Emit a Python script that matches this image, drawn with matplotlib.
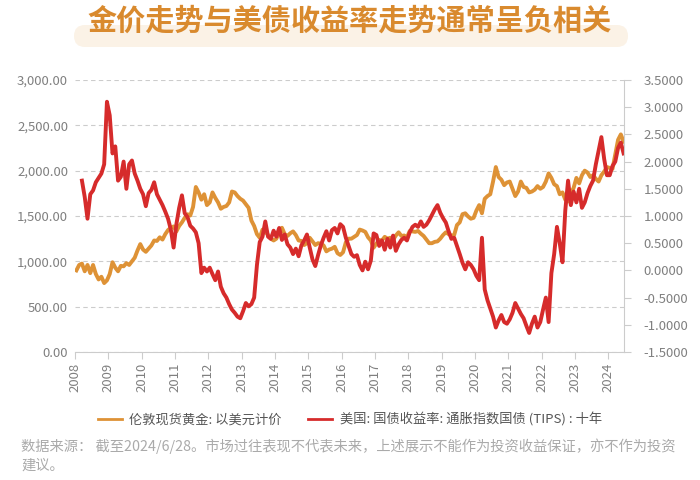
import numpy as np
import matplotlib
matplotlib.use("Agg")
import matplotlib.pyplot as plt
from matplotlib.lines import Line2D
from matplotlib.patches import FancyBboxPatch

plt.rcParams['font.family'] = ['Noto Sans CJK SC', 'DejaVu Sans']

# monthly values, Jan 2008 - Jun 2024
gold = [
    900, 960, 975, 890, 960, 870, 960, 860, 800, 830, 760, 790,        # 2008
    860, 990, 930, 890, 950, 945, 980, 960, 1000, 1040, 1120, 1190,    # 2009
    1130, 1105, 1140, 1175, 1230, 1225, 1265, 1240, 1300, 1345, 1370, 1385,  # 2010
    1330, 1390, 1430, 1480, 1520, 1505, 1600, 1820, 1760, 1680, 1740, 1620,  # 2011
    1650, 1760, 1700, 1650, 1580, 1600, 1610, 1650, 1770, 1760, 1720, 1690,  # 2012
    1670, 1630, 1590, 1450, 1390, 1300, 1260, 1350, 1330, 1290, 1250, 1230,  # 2013
    1250, 1320, 1370, 1300, 1280, 1310, 1330, 1290, 1230, 1225, 1180, 1200,  # 2014
    1260, 1220, 1180, 1200, 1195, 1175, 1110, 1130, 1140, 1160, 1090, 1070,  # 2015
    1100, 1210, 1250, 1250, 1270, 1290, 1350, 1340, 1325, 1265, 1230, 1150,  # 2016
    1195, 1235, 1230, 1270, 1250, 1260, 1235, 1285, 1320, 1280, 1285, 1265,  # 2017
    1335, 1330, 1325, 1335, 1305, 1280, 1240, 1200, 1200, 1215, 1220, 1250,  # 2018
    1290, 1320, 1300, 1285, 1290, 1400, 1430, 1520, 1530, 1495, 1470, 1480,  # 2019
    1560, 1620, 1530, 1690, 1720, 1740, 1880, 2040, 1930, 1900, 1840, 1870,  # 2020
    1880, 1800, 1720, 1770, 1880, 1820, 1810, 1760, 1770, 1790, 1830, 1800,  # 2021
    1820, 1880, 1970, 1920, 1850, 1830, 1740, 1760, 1680, 1660, 1750, 1810,  # 2022
    1920, 1860, 1950, 2000, 1980, 1930, 1950, 1910, 1880, 1950, 1990, 2040,  # 2023
    2030, 2020, 2180, 2340, 2400, 2320,                                      # 2024
]

tips = [
    np.nan, np.nan, 1.65, 1.35, 0.95, 1.40, 1.47, 1.62, 1.70, 1.78, 1.95, 3.10,  # 2008
    2.85, 2.15, 2.28, 1.65, 1.72, 2.00, 1.50, 1.95, 2.02, 1.78, 1.65, 1.50,      # 2009
    1.40, 1.18, 1.42, 1.48, 1.62, 1.40, 1.30, 1.20, 1.08, 0.95, 0.75, 0.42,      # 2010
    0.85, 1.15, 1.38, 1.05, 0.98, 0.82, 0.77, 0.70, 0.50, -0.05, 0.05, -0.02,    # 2011
    0.05, -0.07, -0.18, -0.02, -0.30, -0.42, -0.50, -0.62, -0.72, -0.78, -0.85, -0.88,  # 2012
    -0.75, -0.60, -0.66, -0.62, -0.50, 0.10, 0.52, 0.62, 0.90, 0.62, 0.58, 0.73,  # 2013
    0.62, 0.78, 0.56, 0.66, 0.48, 0.42, 0.30, 0.40, 0.26, 0.46, 0.55, 0.66,      # 2014
    0.42, 0.20, 0.08, 0.28, 0.46, 0.60, 0.72, 0.55, 0.74, 0.78, 0.68, 0.85,      # 2015
    0.80, 0.60, 0.45, 0.30, 0.25, 0.28, 0.10, 0.00, 0.16, 0.02, 0.18, 0.68,      # 2016
    0.65, 0.45, 0.55, 0.38, 0.58, 0.42, 0.64, 0.36, 0.48, 0.56, 0.60, 0.55,      # 2017
    0.70, 0.80, 0.84, 0.80, 0.90, 0.80, 0.84, 0.92, 1.02, 1.12, 1.20, 1.06,      # 2018
    0.96, 0.88, 0.72, 0.58, 0.60, 0.45, 0.30, 0.14, 0.02, 0.15, 0.10, 0.02,      # 2019
    -0.10, -0.18, 0.60, -0.35, -0.55, -0.70, -0.85, -1.05, -0.92, -0.82, -0.95, -0.98,  # 2020
    -0.90, -0.78, -0.60, -0.70, -0.80, -0.88, -1.02, -1.15, -0.98, -0.85, -1.05, -0.95,  # 2021
    -0.72, -0.50, -0.95, -0.05, 0.30, 0.80, 0.50, 0.15, 1.10, 1.65, 1.20, 1.45,  # 2022
    1.25, 1.50, 1.15, 1.25, 1.42, 1.55, 1.65, 1.95, 2.20, 2.45, 2.05, 1.75,      # 2023
    1.75, 1.92, 2.00, 2.25, 2.35, 2.15,                                          # 2024
]

years = list(range(2008, 2025))
gold_ticks = [0, 500, 1000, 1500, 2000, 2500, 3000]
tips_ticks = [-1.5, -1.0, -0.5, 0.0, 0.5, 1.0, 1.5, 2.0, 2.5, 3.0, 3.5]

title = "金价走势与美债收益率走势通常呈负相关"
label_gold = "伦敦现货黄金: 以美元计价"
label_tips = "美国: 国债收益率: 通胀指数国债 (TIPS) : 十年"
note1 = "数据来源： 截至2024/6/28。市场过往表现不代表未来，上述展示不能作为投资收益保证，亦不作为投资"
note2 = "建议。"

GOLD_C = '#DE9236'
RED_C = '#D62B2B'
TXT_C = '#808080'

t = 2008 + (np.arange(len(gold)) + 0.5) / 12.0

fig = plt.figure(figsize=(7, 4.8), dpi=100)
ax = fig.add_axes([75/700, 1-352/480, (624-75)/700, (352-80)/480])
ax2 = ax.twinx()

ax.plot(t, gold, color=GOLD_C, lw=2.8, solid_joinstyle='round')
ax2.plot(t, tips, color=RED_C, lw=2.8, solid_joinstyle='round')

ax.set_xlim(2008, 2024.47)
ax.set_ylim(0, 3000)
ax2.set_ylim(-1.5, 3.5)

ax.set_yticks(gold_ticks)
ax.set_yticklabels(['{:,.2f}'.format(v) for v in gold_ticks])
ax2.set_yticks(tips_ticks)
ax2.set_yticklabels(['{:.4f}'.format(v) for v in tips_ticks])
ax.set_xticks(years)
ax.set_xticklabels([str(y) for y in years], rotation=90)

ax.yaxis.grid(True, linestyle=(0, (4, 3)), color='#CCCCCC', lw=0.8)
ax.set_axisbelow(True)

for a in (ax, ax2):
    for s in ('top', 'left'):
        a.spines[s].set_visible(False)
    a.spines['bottom'].set_color('#CCCCCC')
    a.spines['right'].set_color('#CCCCCC')
ax.spines['right'].set_visible(False)
ax2.spines['bottom'].set_visible(False)

ax.tick_params(axis='y', length=0, pad=5, labelsize=9.5, labelcolor=TXT_C)
ax.tick_params(axis='x', length=5, color='#CCCCCC', pad=3, labelsize=9.5, labelcolor=TXT_C)
ax2.tick_params(axis='y', length=5, color='#CCCCCC', pad=9, labelsize=9.5, labelcolor=TXT_C)

# title with light pill behind
pill = FancyBboxPatch((0.74, 4.33), 5.54, 0.22, boxstyle='round,pad=0,rounding_size=0.11',
                      transform=fig.dpi_scale_trans, facecolor='#FBF2E6', edgecolor='none')
fig.patches.append(pill)
fig.text(0.5, 1-21/480, title, ha='center', va='center', fontsize=21,
         fontweight='bold', color='#D98A2E')

handles = [Line2D([], [], color=GOLD_C, lw=2), Line2D([], [], color=RED_C, lw=2)]
fig.legend(handles, [label_gold, label_tips], loc='center', bbox_to_anchor=(0.5, 1-420/480),
           ncol=2, frameon=False, fontsize=9.5, handlelength=1.8, columnspacing=2.0,
           handletextpad=0.6, labelcolor='#555555')

fig.text(21/700, 1-446/480, note1, ha='left', va='center', fontsize=10.3, color='#AAAAAA')
fig.text(21/700, 1-466/480, note2, ha='left', va='center', fontsize=10.3, color='#AAAAAA')

fig.savefig('out.png', dpi=100)
